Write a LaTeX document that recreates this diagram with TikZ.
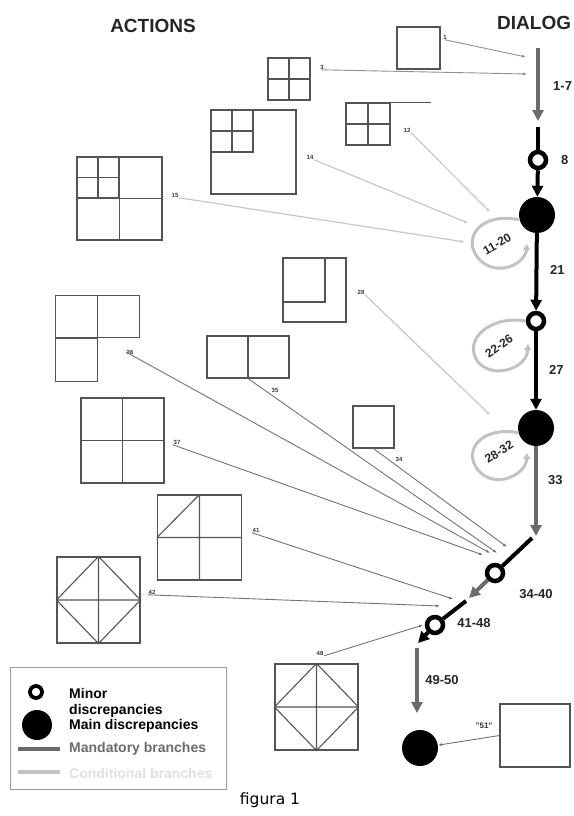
\documentclass[tikz,border=0pt]{standalone}
\usepackage{fontspec}
\setmainfont{Liberation Sans}
\newfontfamily\captionfont{DejaVu Sans}
\usetikzlibrary{arrows.meta,positioning}

\definecolor{boxgray}{gray}{0.33}
\definecolor{mandgray}{gray}{0.42}
\definecolor{condgray}{gray}{0.76}
\definecolor{actgray}{gray}{0.45}
\definecolor{faintgray}{gray}{0.78}

\begin{document}
\begin{tikzpicture}[x=1pt,y=-1pt]
    % dialog chain on the right, actions (drawings) on the left
    % - mandatory branches: thick, dark
    % - conditional branches: thick, light loops
    \tikzset{box/.style = {shape=rectangle,draw=boxgray,line width=1.1pt,inner sep=0pt}}
    \tikzset{grid/.style = {draw=boxgray,line width=1.1pt}}
    \tikzset{minor/.style = {shape=circle,draw=black,fill=white,line width=4.5pt,minimum size=16pt,inner sep=0pt}}
    \tikzset{major/.style = {shape=circle,fill=black,minimum size=36pt,inner sep=0pt}}
    \tikzset{mand/.style = {line width=4pt,-{Triangle[length=11pt,width=11pt]}}}
    \tikzset{cond/.style = {draw=condgray,line width=3pt,-{Triangle[length=6pt,width=7pt]}}}
    \tikzset{act/.style = {draw=actgray,line width=0.9pt,-{Latex[length=4pt,width=3pt]}}}
    \tikzset{faint/.style = {act,draw=faintgray,line width=1.2pt}}
    \tikzset{head/.style = {font=\fontsize{19pt}{20pt}\selectfont\bfseries,text=black!85,inner sep=0pt}}
    \tikzset{num/.style = {font=\fontsize{13pt}{14pt}\selectfont\bfseries,text=black!85,inner sep=1pt}}
    \tikzset{loopnum/.style = {num,font=\fontsize{12pt}{13pt}\selectfont\bfseries,inner sep=0pt}}
    \tikzset{tag/.style = {font=\fontsize{6pt}{7pt}\selectfont\bfseries,text=black!80,inner sep=0.5pt}}
    \tikzset{legtext/.style = {font=\fontsize{14pt}{14pt}\selectfont\bfseries,anchor=west,inner sep=0pt}}

    \useasboundingbox (0,0) rectangle (573,816);

    % headings
    \node[head] (actions) at (153,26) {ACTIONS};
    \node[head,anchor=west] (dialog) at (497,23) {DIALOG};

    % dialog chain
    \coordinate (c0) at (538,48);
    \coordinate (c7) at (538,121);
    \draw[mand,mandgray] (c0) -- (c7);
    \node[num,anchor=west] (l7) at (552,86) {1-7};
    \coordinate (c8) at (538,127);
    \node[minor] (m8) at (538,160) {};
    \draw[line width=4pt] (c8) -- (m8);
    \node[num,anchor=west] (l8) at (560,160) {8};
    \node[major] (d20) at (537,215) {};
    \draw[mand] (m8) -- (d20);
    \node[minor] (m26) at (536,321) {};
    \draw[mand] (d20) -- (m26);
    \node[num,anchor=west] (l21) at (549,270) {21};
    \node[major] (d32) at (536,428) {};
    \draw[mand] (m26) -- (d32);
    \node[num,anchor=west] (l27) at (548,370) {27};
    \coordinate (c33) at (536,536);
    \draw[mand,mandgray] (d32) -- (c33);
    \node[num,anchor=west] (l33) at (547,480) {33};
    \coordinate (c34) at (532,538);
    \node[minor] (m40) at (495,573) {};
    \draw[line width=4pt] (c34) -- (m40);
    \coordinate (c40) at (469,598);
    \draw[mand,mandgray] (m40) -- (c40);
    \node[num] (l40) at (536,594) {34-40};
    \coordinate (c41) at (466,601);
    \node[minor] (m48) at (435,625) {};
    \draw[line width=4pt] (c41) -- (m48);
    \coordinate (c48) at (418,643);
    \draw[mand] (m48) -- (c48);
    \node[num] (l48) at (474,623) {41-48};
    \coordinate (c49) at (417,648);
    \coordinate (c50) at (417,713);
    \draw[mand,mandgray] (c49) -- (c50);
    \node[num] (l50) at (442,680) {49-50};
    \node[major] (d51) at (420,748) {};

    % conditional loops
    \coordinate (r20) at (527,244);
    \draw[cond] (d20.195) .. controls (480,212) and (462,238) .. (478,258)
        .. controls (495,278) and (525,265) .. (r20);
    \node[loopnum,rotate=30] (l20) at (497,244) {11-20};
    \coordinate (r26) at (528,344);
    \draw[cond] (m26.180) .. controls (490,315) and (462,340) .. (478,362)
        .. controls (494,380) and (527,368) .. (r26);
    \node[loopnum,rotate=35] (l26) at (499,346) {22-26};
    \coordinate (r32) at (527,453);
    \draw[cond] (d32.195) .. controls (482,426) and (462,450) .. (478,470)
        .. controls (495,490) and (526,475) .. (r32);
    \node[loopnum,rotate=32] (l32) at (499,452) {28-32};

    % actions 1 and 3
    \node[box,minimum width=43pt,minimum height=42pt] (b1) at (418.5,48) {};
    \node[tag] (n1) at (445,37) {1};
    \coordinate (e1) at (526,57);
    \draw[act,draw=actgray!80] (n1.south) -- (e1);
    \node[box,minimum size=42pt] (b3) at (289,79) {};
    \draw[grid] (b3.north) -- (b3.south) (b3.west) -- (b3.east);
    \node[tag] (n3) at (322,67) {3};
    \coordinate (e3) at (527,74);
    \draw[act,draw=actgray!80] (n3.south) -- (e3);

    % actions 12, 14, 15
    \node[box,minimum width=44pt,minimum height=42pt] (b12) at (368,124) {};
    \draw[grid] (b12.north) -- (b12.south) (b12.west) -- (b12.east)
        (b12.north east) -- ++(40,0);
    \node[tag] (n12) at (407,130) {12};
    \coordinate (e12) at (490,212);
    \draw[faint] (n12.south east) -- (e12);
    \node[box,minimum width=85pt,minimum height=84pt] (b14) at (253.5,152) {};
    \node[box,minimum size=42pt,anchor=north west] (q14) at (b14.north west) {};
    \draw[grid] (q14.north) -- (q14.south) (q14.west) -- (q14.east);
    \node[tag] (n14) at (310,157) {14};
    \coordinate (e14) at (468,223);
    \draw[faint] (n14.south east) -- (e14);
    \node[box,minimum width=85pt,minimum height=83pt] (b15) at (119.5,198.5) {};
    \draw[grid] (b15.north) -- (b15.south) (b15.west) -- (b15.east);
    \node[box,minimum width=42pt,minimum height=41pt,anchor=north west] (q15) at (b15.north west) {};
    \draw[grid] (q15.north) -- (q15.south) (q15.west) -- (q15.east);
    \node[tag] (n15) at (175,195) {15};
    \coordinate (e15) at (465,242);
    \draw[faint] (n15.south east) -- (e15);

    % action 28
    \node[box,minimum width=63pt,minimum height=64pt] (b28) at (314.5,290) {};
    \node[box,minimum width=42pt,minimum height=44pt,anchor=north west] (q28) at (b28.north west) {};
    \node[tag] (n28) at (361,292) {28};
    \coordinate (e28) at (490,415);
    \draw[faint] (n28.south east) -- (e28);

    % actions 34 - 37
    \node[box,minimum width=84pt,minimum height=42pt,anchor=north west] (b36) at (55,295) {};
    \draw[grid] (b36.north) -- (b36.south);
    \node[box,minimum width=42pt,minimum height=43pt,anchor=north west] (q36) at (b36.south west) {};
    \node[tag] (n36) at (130,352) {36};
    \coordinate (e36) at (490,553);
    \draw[act] (n36.west) -- (e36);
    \node[box,minimum width=82pt,minimum height=42pt] (b35) at (248,357) {};
    \draw[grid] (b35.north) -- (b35.south);
    \node[tag] (n35) at (275,390) {35};
    \coordinate (e35) at (497,553);
    \draw[act] (b35.south) -- (e35);
    \node[box,minimum width=41pt,minimum height=42pt] (b34) at (373.5,427) {};
    \node[tag] (n34) at (399,459) {34};
    \coordinate (e34) at (507,547);
    \draw[act] (b34.south) -- (e34);
    \node[box,minimum width=83pt,minimum height=85pt] (b37) at (122.5,440.5) {};
    \draw[grid] (b37.north) -- (b37.south) (b37.west) -- (b37.east);
    \node[tag] (n37) at (177,442) {37};
    \coordinate (e37) at (483,555);
    \draw[act] (n37.south west) -- (e37);

    % actions 41, 42, 48
    \node[box,minimum width=84pt,minimum height=85pt] (b41) at (199.5,537.5) {};
    \draw[grid] (b41.north) -- (b41.south) (b41.west) -- (b41.east)
        (b41.west) -- (b41.north);
    \node[tag] (n41) at (256,530) {41};
    \coordinate (e41) at (453,599);
    \draw[act] (n41.south west) -- (e41);
    \node[box,minimum width=83pt,minimum height=86pt] (b42) at (98.5,600) {};
    \draw[grid] (b42.north) -- (b42.south) (b42.west) -- (b42.east)
        (b42.north) -- (b42.east) -- (b42.south) -- (b42.west) -- cycle;
    \node[tag] (n42) at (152,592) {42};
    \coordinate (e42) at (440,606);
    \draw[act] (n42.south west) -- (e42);
    \node[box,minimum width=83pt,minimum height=86pt] (b48) at (316.5,707) {};
    \draw[grid] (b48.north) -- (b48.south) (b48.west) -- (b48.east)
        (b48.north) -- (b48.east) -- (b48.south) -- (b48.west) -- cycle;
    \node[tag] (n48) at (320,653) {48};
    \coordinate (e48) at (423,625);
    \draw[act] (n48.south east) -- (e48);

    % action 51
    \node[box,minimum width=70pt,minimum height=63pt] (b51) at (535,735.5) {};
    \node[tag,font=\fontsize{8pt}{9pt}\selectfont\bfseries] (n51) at (484,726) {"51"};
    \draw[act] (b51.west) -- (d51);

    % legend
    \node[box,draw=boxgray!60,line width=0.9pt,minimum width=216pt,minimum height=122pt,anchor=north west] (legend) at (10,667) {};
    \node[minor,minimum size=12pt,line width=3.8pt] (lminor) at (36,692) {};
    \node[major,minimum size=30pt] (lmajor) at (37,725) {};
    \node[legtext] (tminor) at (69,693) {Minor};
    \node[legtext] (tdisc) at (69,711) {discrepancies};
    \node[legtext] (tmain) at (69,726) {Main discrepancies};
    \coordinate (lm1) at (18,749);
    \coordinate (lm2) at (60,749);
    \draw[line width=3.5pt,draw=mandgray] (lm1) -- (lm2);
    \node[legtext,text=mandgray] (tmand) at (69,749) {Mandatory branches};
    \coordinate (lc1) at (18,772);
    \coordinate (lc2) at (60,772);
    \draw[line width=3.5pt,draw=condgray] (lc1) -- (lc2);
    \node[legtext,text=black!12] (tcond) at (69,773) {Conditional branches};

    % caption
    \node[font=\captionfont\fontsize{15.5pt}{16pt}\selectfont] (fig) at (270,800) {figura 1};
\end{tikzpicture}
\end{document}
